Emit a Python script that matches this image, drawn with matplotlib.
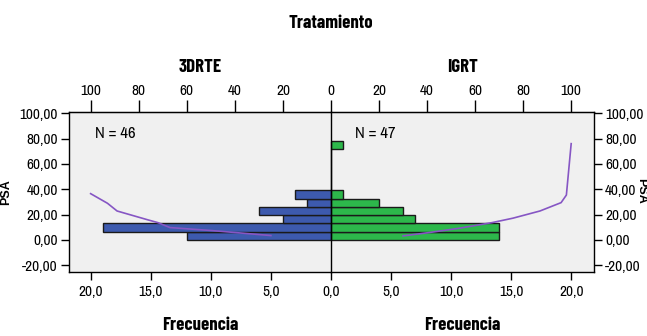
import numpy as np
import matplotlib
matplotlib.use("Agg")
import matplotlib.pyplot as plt
from matplotlib.ticker import FuncFormatter

plt.rcParams['font.family'] = ['Archivo Narrow', 'Liberation Sans', 'DejaVu Sans']
BOLD = ['Barlow Condensed', 'Liberation Sans', 'DejaVu Sans']

# PSA bins (width 6.5) and frequencies per treatment
bin_edges = [0, 6.5, 13, 19.5, 26, 32.5, 39, 45.5, 52, 58.5, 65, 71.5]
freq_3drte = [12, 19, 4, 6, 2, 3, 0, 0, 0, 0, 0, 0]
freq_igrt = [14, 14, 7, 6, 4, 1, 0, 0, 0, 0, 0, 1]
bin_width = 6.5

# cumulative percent curves (percent, PSA)
cum_pct_3drte = [25, 40, 50, 67, 72, 76, 89, 93, 100]
cum_psa_3drte = [3.4, 5.8, 7.4, 9.7, 13.6, 15.7, 22.8, 28.9, 36.5]
cum_pct_igrt = [30, 41, 53.5, 67, 75.7, 87, 95.8, 98, 100]
cum_psa_igrt = [3.1, 5.8, 9.2, 13.6, 17.1, 22.8, 29.4, 35.4, 76]

n_3drte, n_igrt = 46, 47

blue = '#3d5aae'
green = '#2db84b'
purple = '#8656c4'
bg = '#f0f0f0'

W, H = 647, 336
fig = plt.figure(figsize=(W / 100, H / 100), dpi=100)
fig.patch.set_facecolor('white')

top, bot = 112, 271.5
left_x, mid_x, right_x = 69, 331, 594
axL = fig.add_axes([left_x / W, 1 - bot / H, (mid_x - left_x) / W, (bot - top) / H])
axR = fig.add_axes([mid_x / W, 1 - bot / H, (right_x - mid_x) / W, (bot - top) / H])

yfmt = FuncFormatter(lambda v, p: ('%.2f' % v).replace('.', ','))
xfmt = FuncFormatter(lambda v, p: ('%.1f' % v).replace('.', ','))

for ax in (axL, axR):
    ax.set_facecolor(bg)
    ax.set_ylim(-25, 101)
    ax.set_yticks([-20, 0, 20, 40, 60, 80, 100])
    ax.yaxis.set_major_formatter(yfmt)
    ax.xaxis.set_major_formatter(xfmt)
    ax.tick_params(direction='out', length=6, width=1, labelsize=11, colors='black', pad=2)
    ax.tick_params(axis='x', pad=4)
    for s in ax.spines.values():
        s.set_linewidth(1)

# left panel (3DRTE)
axL.barh(bin_edges, freq_3drte, height=bin_width, align='edge', color=blue,
         edgecolor='#1a1a1a', linewidth=1)
axL.plot([p / 5 for p in cum_pct_3drte], cum_psa_3drte, color=purple, lw=1.2)
axL.set_xlim(21.8, 0)
axL.set_xticks([20, 15, 10, 5])
axL.spines['right'].set_visible(False)
axL.set_ylabel('PSA', fontsize=9, fontweight='bold', family=['Liberation Sans'], labelpad=5)
axL.text(19.6, 84, 'N = %d' % n_3drte, fontsize=12, va='center', ha='left')

# right panel (IGRT)
axR.barh(bin_edges, freq_igrt, height=bin_width, align='edge', color=green,
         edgecolor='#1a1a1a', linewidth=1)
axR.plot([p / 5 for p in cum_pct_igrt], cum_psa_igrt, color=purple, lw=1.2)
axR.set_xlim(0, 21.9)
axR.set_xticks([0, 5, 10, 15, 20])
axR.yaxis.tick_right()
axR.text(2.0, 84, 'N = %d' % n_igrt, fontsize=12, va='center', ha='left')

# top cumulative percent axes
secL = axL.secondary_xaxis('top', functions=(lambda x: x * 5, lambda x: x / 5))
secL.set_xticks([100, 80, 60, 40, 20])
secR = axR.secondary_xaxis('top', functions=(lambda x: x * 5, lambda x: x / 5))
secR.set_xticks([0, 20, 40, 60, 80, 100])
for sec in (secL, secR):
    sec.tick_params(direction='out', length=9, width=1, labelsize=11, pad=1)

fig.text(641 / W, 1 - 191 / H, 'PSA', ha='center', va='center', rotation=-90,
         fontsize=9, fontweight='bold', family=['Liberation Sans'])

fig.text(mid_x / W, 1 - 23 / H, 'Tratamiento', ha='center', va='center',
         fontsize=13.5, fontweight='bold', family=BOLD)
for cx, lab in [((left_x + mid_x) / 2, '3DRTE'), ((mid_x + right_x) / 2, 'IGRT')]:
    fig.text(cx / W, 1 - 67 / H, lab, ha='center', va='center',
             fontsize=13.5, fontweight='bold', family=BOLD)
    fig.text(cx / W, 1 - 326 / H, 'Frecuencia', ha='center', va='center',
             fontsize=13.5, fontweight='bold', family=BOLD)

fig.savefig('out.png', dpi=100)
